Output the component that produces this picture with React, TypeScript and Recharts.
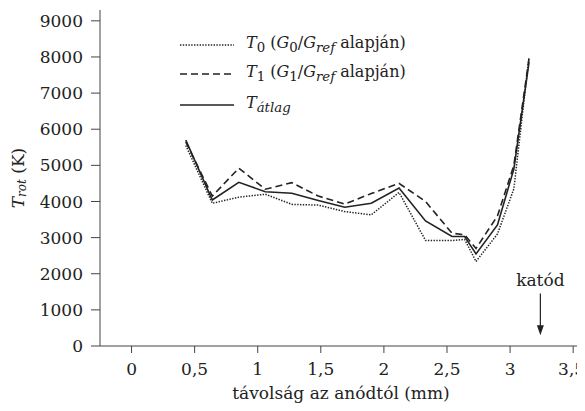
import { LineChart, Line, XAxis, YAxis, ReferenceLine, ReferenceDot } from "recharts";

// távolság az anódtól (mm)
const distances = [0.43, 0.64, 0.85, 1.06, 1.27, 1.48, 1.69, 1.9, 2.12, 2.33, 2.54, 2.64, 2.73, 2.9, 3.03, 3.15];
// T0 (G0/Gref alapján)
const t0 = [5550, 3950, 4120, 4200, 3920, 3900, 3720, 3630, 4250, 2920, 2920, 2950, 2340, 3100, 4350, 8000];
// T1 (G1/Gref alapján)
const t1 = [5650, 4150, 4920, 4340, 4520, 4150, 3930, 4220, 4500, 4000, 3120, 3080, 2700, 3600, 5000, 7950];
// T átlag
const tAvg = [5700, 4040, 4530, 4270, 4230, 4030, 3840, 3950, 4370, 3460, 3030, 3030, 2550, 3350, 4900, 7850];

const xTicks = [0, 0.5, 1, 1.5, 2, 2.5, 3, 3.5];
const yTicks = [0, 1000, 2000, 3000, 4000, 5000, 6000, 7000, 8000, 9000];
const cathodeX = 3.24;

const data = distances.map((x, i) => ({ x, t0: t0[i], t1: t1[i], tAvg: tAvg[i] }));

const FONT = "DejaVu Serif";
const INK = "#222";
const AXIS = "#444";

function LegendBox() {
  const row = (dash: string | undefined, label: React.ReactNode, h: number, w = 1.6) => (
    <div style={{ display: "flex", alignItems: "center", height: h }}>
      <svg width={54} height={10} style={{ marginRight: 12 }}>
        <line x1={0} y1={5} x2={54} y2={5} stroke={INK} strokeWidth={w} strokeDasharray={dash} />
      </svg>
      <span>{label}</span>
    </div>
  );
  return (
    <div style={{ position: "absolute", left: 172, top: 23, fontFamily: FONT, fontSize: 16, color: INK, lineHeight: 1 }}>
      {row("1.4 1.4", <><i>T</i><sub>0</sub> (<i>G</i><sub>0</sub>/<i>G</i><sub><i>ref</i></sub> alapján)</>, 28, 1.4)}
      {row("7 4", <><i>T</i><sub>1</sub> (<i>G</i><sub>1</sub>/<i>G</i><sub><i>ref</i></sub> alapján)</>, 30)}
      {row(undefined, <><i>T</i><sub><i>átlag</i></sub></>, 32)}
    </div>
  );
}

function YTitle({ viewBox }: any) {
  const cx = viewBox.x + 10;
  const cy = viewBox.y + viewBox.height / 2;
  return (
    <text x={cx} y={cy} transform={`rotate(-90 ${cx} ${cy})`} textAnchor="middle" dominantBaseline="central"
      style={{ fontFamily: FONT }} fontSize={17} fill={INK}>
      <tspan fontStyle="italic">T</tspan>
      <tspan fontStyle="italic" fontSize={12} dy={4}>rot</tspan>
      <tspan dy={-4}> (K)</tspan>
    </text>
  );
}

function XTick({ x, y, payload, index, visibleTicksCount }: any) {
  const last = index === (visibleTicksCount ?? xTicks.length) - 1;
  return (
    <text x={last ? x + 12 : x} y={y} dy="0.71em" textAnchor={last ? "end" : "middle"}
      fontSize={17} fill={INK} style={{ fontFamily: FONT }}>
      {String(payload.value).replace(".", ",")}
    </text>
  );
}

const tickStyle = { fill: INK, fontSize: 17, fontFamily: FONT, style: { fontFamily: FONT } };

export default function App() {
  return (
    <div style={{ position: "relative", width: 577, height: 403, fontFamily: FONT }}>
      <LineChart width={577} height={403} data={data} margin={{ top: 2, right: 3, left: 0, bottom: 0 }}
        style={{ fontFamily: FONT }}>
        <XAxis
          dataKey="x"
          type="number"
          domain={[-0.25, 3.57]}
          ticks={xTicks}
          interval={0}
          height={65}
          tickSize={7}
          tickMargin={10}
          stroke={AXIS}
          tick={<XTick />}
          label={{ value: "távolság az anódtól (mm)", position: "insideBottom", offset: 12, fill: INK, fontSize: 17, style: { fontFamily: FONT } }}
        />
        <YAxis
          type="number"
          domain={[0, 9300]}
          ticks={yTicks}
          interval={0}
          width={92}
          tickSize={9}
          tickMargin={8}
          stroke={AXIS}
          tick={tickStyle}
          label={<YTitle />}
        />
        <ReferenceLine segment={[{ x: cathodeX, y: 1450 }, { x: cathodeX, y: 500 }]} stroke={INK} strokeWidth={1.2} />
        <ReferenceDot
          x={cathodeX}
          y={300}
          shape={(p: any) => <path d={`M${p.cx - 3.5},${p.cy - 10} L${p.cx + 3.5},${p.cy - 10} L${p.cx},${p.cy} Z`} fill={INK} />}
        />
        <ReferenceDot
          x={cathodeX}
          y={1650}
          shape={(p: any) => (
            <text x={p.cx} y={p.cy} textAnchor="middle" fontSize={17} fill={INK} style={{ fontFamily: FONT }}>katód</text>
          )}
        />
        <Line dataKey="t0" type="linear" stroke={INK} strokeWidth={1.5} strokeDasharray="1.4 1.4" dot={false} isAnimationActive={false} />
        <Line dataKey="t1" type="linear" stroke={INK} strokeWidth={1.6} strokeDasharray="7 4" dot={false} isAnimationActive={false} />
        <Line dataKey="tAvg" type="linear" stroke={INK} strokeWidth={1.6} dot={false} isAnimationActive={false} />
      </LineChart>
      <LegendBox />
    </div>
  );
}
